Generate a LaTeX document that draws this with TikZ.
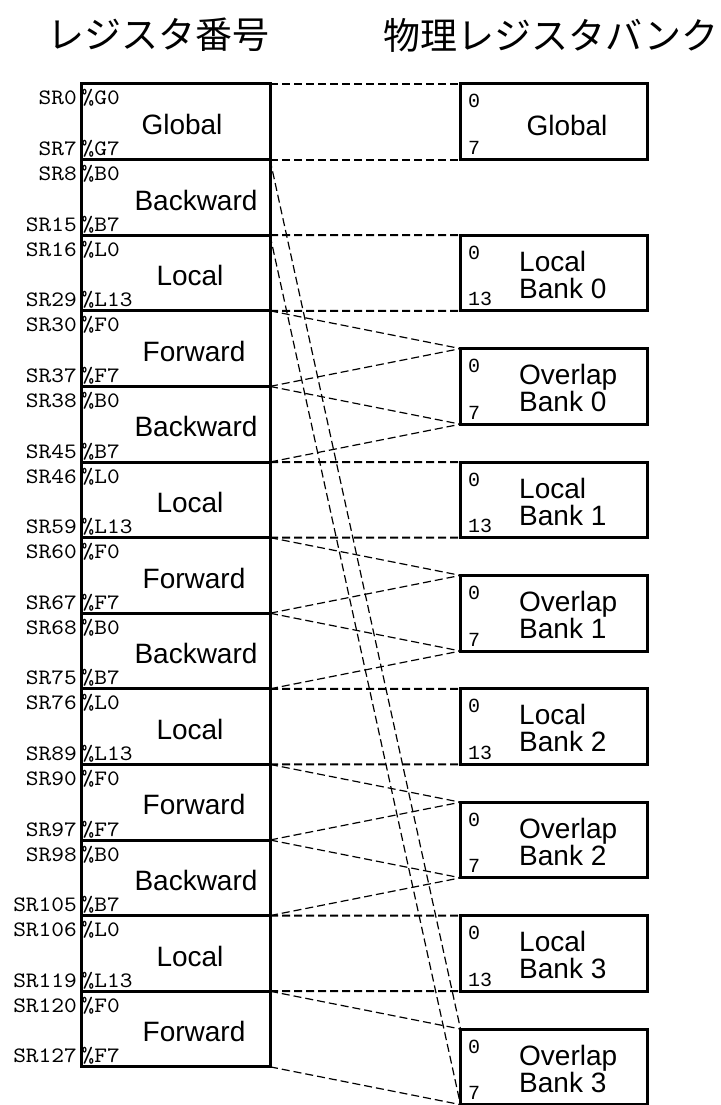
\documentclass[tikz,border=0pt]{standalone}
\usepackage{fontspec}
\setmainfont{Liberation Sans}
\newfontfamily\jpfont{Noto Sans CJK JP}
\newfontfamily\regfont{lmmono10-regular.otf}[FakeStretch=1.1]
\newfontfamily\numfont{Liberation Mono}
\tikzset{
  seg/.style={draw,line width=3pt,minimum width=188.5pt,minimum height=75.6pt,
              inner sep=0pt,outer sep=0pt},
  bank/.style={seg,minimum width=187pt},
  flat/.style={dash pattern=on 8pt off 4pt,line width=2pt},
  slant/.style={dash pattern=on 8pt off 4pt,line width=1.2pt},
  regno/.style={font=\regfont\fontsize{22}{24}\selectfont,inner sep=0pt},
  word/.style={font=\fontsize{28}{28}\selectfont,inner sep=0pt},
  idx/.style={font=\numfont\fontsize{20}{22}\selectfont,inner sep=0pt,anchor=base west},
  ttl/.style={font=\jpfont\fontsize{37}{40}\selectfont,inner sep=0pt},
}

\begin{document}
\begin{tikzpicture}[x=1pt,y=-1pt]
  \useasboundingbox (0,0) rectangle (720,1105);

  \node[ttl] (regtitle) at (158,35) {レジスタ番号};
  \node[ttl] (banktitle) at (551,35) {物理レジスタバンク};

  % register numbers (left column)
  \foreach \i/\w/\wx/\ra/\rb/\na/\nb in {
      0/Global/182/SR0/SR7/G0/G7,
      1/Backward/196/SR8/SR15/B0/B7,
      2/Local/190/SR16/SR29/L0/L13,
      3/Forward/194/SR30/SR37/F0/F7,
      4/Backward/196/SR38/SR45/B0/B7,
      5/Local/190/SR46/SR59/L0/L13,
      6/Forward/194/SR60/SR67/F0/F7,
      7/Backward/196/SR68/SR75/B0/B7,
      8/Local/190/SR76/SR89/L0/L13,
      9/Forward/194/SR90/SR97/F0/F7,
      10/Backward/196/SR98/SR105/B0/B7,
      11/Local/190/SR106/SR119/L0/L13,
      12/Forward/194/SR120/SR127/F0/F7} {
    \node[seg] (s\i) at (175.75,84+75.6*\i+37.8) {};
    \node[word] (w\i) at (\wx,84+75.6*\i+40.5) {\w};
    \node[regno,anchor=base east] (ra\i) at (77,84+75.6*\i+21) {\ra};
    \node[regno,anchor=base east] (rb\i) at (77,84+75.6*\i+71.6) {\rb};
    \node[regno,anchor=base west] (na\i) at (81.5,84+75.6*\i+21) {\%\na};
    \node[regno,anchor=base west] (nb\i) at (81.5,84+75.6*\i+71.6) {\%\nb};
  }

  % physical banks (right column)
  \node[bank] (pg) at (554,121.8) {};
  \node[word] (pgw) at (567,125) {Global};
  \node[idx] (pga) at (468,108) {0};
  \node[idx] (pgb) at (468,154.6) {7};
  \foreach \k in {0,...,3} {
    \node[bank] (pl\k) at (554,235.2+226.8*\k+37.8) {};
    \node[word,anchor=base west] (plt\k) at (519,235.2+226.8*\k+36) {Local};
    \node[word,anchor=base west] (plb\k) at (519,235.2+226.8*\k+63) {Bank \k};
    \node[idx] (pla\k) at (468,235.2+226.8*\k+24) {0};
    \node[idx] (plz\k) at (468,235.2+226.8*\k+70.6) {13};
    \node[bank] (po\k) at (554,386.4+226.8*\k) {};
    \node[word,anchor=base west] (pot\k) at (519,348.6+226.8*\k+36) {Overlap};
    \node[word,anchor=base west] (pob\k) at (519,348.6+226.8*\k+63) {Bank \k};
    \node[idx] (poa\k) at (468,348.6+226.8*\k+24) {0};
    \node[idx] (poz\k) at (468,348.6+226.8*\k+70.6) {7};
  }

  % mapping
  \draw[flat] (s0.north east) -- (pg.north west);
  \draw[flat] (s0.south east) -- (pg.south west);
  \foreach \k/\l/\f/\b in {0/2/3/4, 1/5/6/7, 2/8/9/10, 3/11/12/1} {
    \draw[flat] (s\l.north east) -- (pl\k.north west);
    \draw[flat] (s\l.south east) -- (pl\k.south west);
    \draw[slant] (s\f.north east) -- (po\k.north west);
    \draw[slant] (s\f.south east) -- (po\k.south west);
    \draw[slant] (s\b.north east) -- (po\k.north west);
    \draw[slant] (s\b.south east) -- (po\k.south west);
  }
\end{tikzpicture}
\end{document}
